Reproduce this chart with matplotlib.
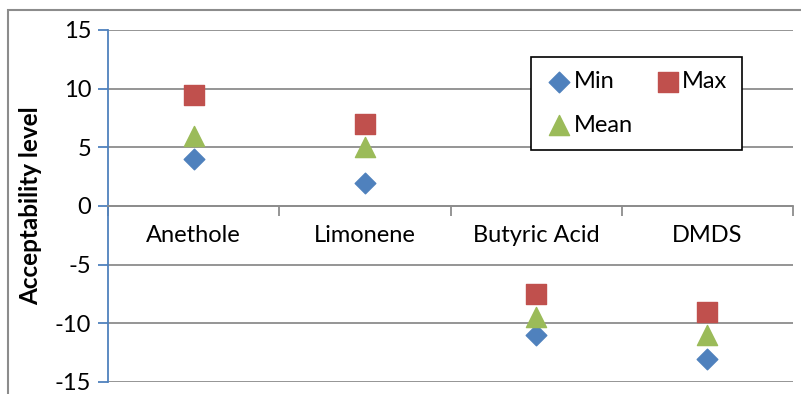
import numpy as np
import matplotlib.pyplot as plt
from matplotlib.patches import Rectangle

# acceptability per compound
compounds = ['Anethole', 'Limonene', 'Butyric Acid', 'DMDS']
v_min = [4, 2, -11, -13]
v_max = [9.5, 7, -7.5, -9]
v_mean = [6, 5, -9.5, -11]

plt.rcParams['font.family'] = ['Lato', 'DejaVu Sans']
plt.rcParams['axes.unicode_minus'] = False

fig = plt.figure(figsize=(8.01, 3.94), dpi=100)
ax = fig.add_axes([108/801, 1-382/394, 685/801, 352/394])

# outer chart frame
fig.patches.append(Rectangle((8/801, -0.1), 1.2, 1-10/394+0.1, transform=fig.transFigure,
                             fill=False, edgecolor='#8c8c8c', linewidth=1.5))

x = np.arange(len(compounds))
p1 = ax.scatter(x, v_min, marker='D', s=110, color='#4F81BD', zorder=3, label='Min')
p2 = ax.scatter(x, v_max, marker='s', s=200, color='#C0504D', zorder=3, label='Max')
p3 = ax.scatter(x, v_mean, marker='^', s=210, color='#9BBB59', zorder=3, label='Mean')

ax.set_xlim(-0.5, 3.5)
ax.set_ylim(-15, 15)
ax.set_yticks(np.arange(-15, 16, 5))
ax.yaxis.grid(True, color='#8c8c8c', linewidth=1.3)
ax.set_axisbelow(True)

for s in ['top', 'right']:
    ax.spines[s].set_visible(False)
ax.spines['left'].set_color('#4F81BD')
ax.spines['left'].set_linewidth(1.3)
ax.spines['bottom'].set_position(('data', 0))
ax.spines['bottom'].set_color('#8c8c8c')
ax.spines['bottom'].set_linewidth(1.3)

ax.tick_params(axis='y', direction='out', length=7, width=1.3, color='#4F81BD',
               labelsize=17, pad=5)
ax.set_xticks(np.arange(-0.5, 3.6, 1))
ax.set_xticklabels([])
ax.set_xticks(x, minor=True)
ax.set_xticklabels(compounds, minor=True, fontsize=17)
ax.tick_params(axis='x', which='major', direction='out', length=7, width=1.3, color='#8c8c8c')
ax.tick_params(axis='x', which='minor', length=0, pad=14)

ax.set_ylabel('Acceptability level', fontsize=17.5, fontweight='bold', labelpad=9)

leg = ax.legend([p1, p3, p2], ['Min', 'Mean', 'Max'], ncol=2, loc='upper left',
                bbox_to_anchor=(531/801, 1-57/394), bbox_transform=fig.transFigure,
                fancybox=False, edgecolor='black', framealpha=1, fontsize=17,
                borderaxespad=0, borderpad=0.6, labelspacing=0.95, columnspacing=0.9,
                handletextpad=0.0, handlelength=1.2, scatterpoints=1)
leg.get_frame().set_linewidth(1.2)

fig.savefig('out.png', dpi=100)
